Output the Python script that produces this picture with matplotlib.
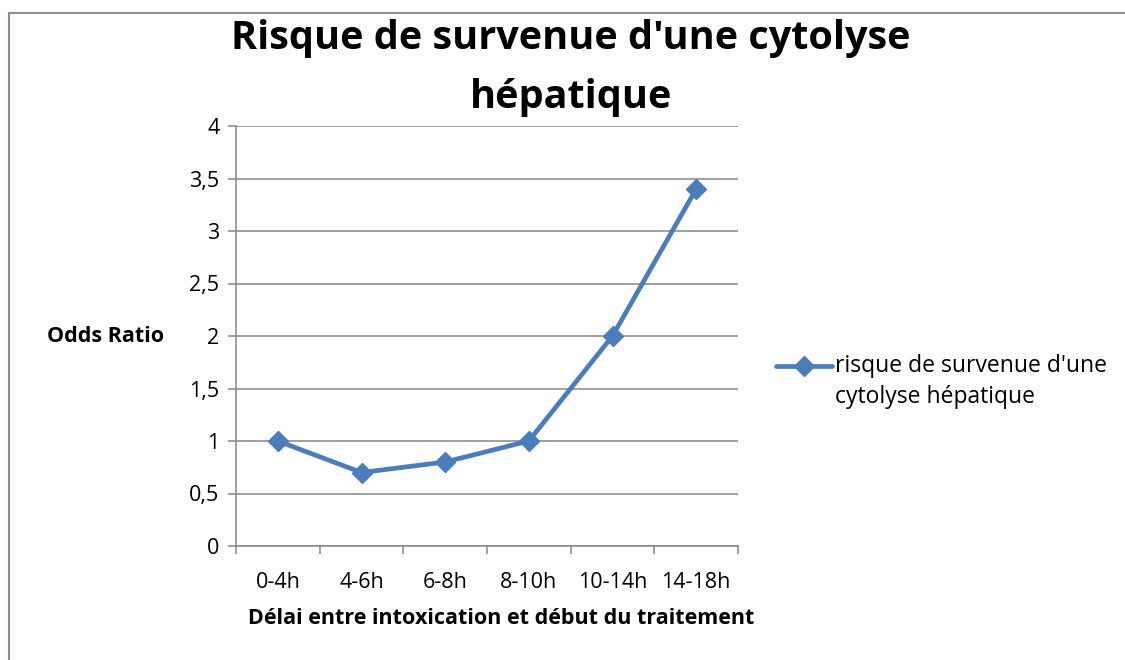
import matplotlib
matplotlib.use("Agg")
import matplotlib.pyplot as plt
from matplotlib.lines import Line2D

categories = ["0-4h", "4-6h", "6-8h", "8-10h", "10-14h", "14-18h"]
odds_ratio = [1.0, 0.7, 0.8, 1.0, 2.0, 3.4]
y_ticks = [0, 0.5, 1, 1.5, 2, 2.5, 3, 3.5, 4]
y_tick_labels = ["0", "0,5", "1", "1,5", "2", "2,5", "3", "3,5", "4"]
series_label = "risque de survenue d'une\ncytolyse hépatique"
title = "Risque de survenue d'une cytolyse\nhépatique"
x_label = "Délai entre intoxication et début du traitement"
y_label = "Odds Ratio"

FONT = ["Open Sans", "DejaVu Sans"]
plt.rcParams['font.family'] = FONT
W, H = 1125, 660
fig = plt.figure(figsize=(W / 100, H / 100), dpi=100)
fig.patch.set_facecolor("white")

# outer border (top and left visible)
fig.add_artist(Line2D([8.5 / W, 8.5 / W], [0, 1 - 12.5 / H], transform=fig.transFigure,
                      color="#8c8c8c", lw=1.5))
fig.add_artist(Line2D([8.5 / W, 1], [1 - 12.5 / H, 1 - 12.5 / H], transform=fig.transFigure,
                      color="#8c8c8c", lw=1.5))

ax = fig.add_axes([236 / W, 1 - 546 / H, (738 - 236) / W, (546 - 126) / H])
x = list(range(len(categories)))
blue = "#4A7EBB"
ms = 10
lw = 3.4
ax.plot(x, odds_ratio, color=blue, lw=lw, marker="D", markersize=ms,
        label=series_label, solid_joinstyle="round")

ax.set_xlim(-0.5, len(categories) - 0.5)
ax.set_ylim(0, 4)
grid_c = "#868686"
ax.set_yticks(y_ticks)
ax.set_yticklabels(y_tick_labels)
ax.yaxis.grid(True, color=grid_c, lw=1.1)
ax.set_axisbelow(True)
ax.set_xticks([i - 0.5 for i in range(len(categories) + 1)])
ax.set_xticklabels([])
ax.set_xticks(x, minor=True)
ax.set_xticklabels(categories, minor=True)
ax.tick_params(axis="x", which="major", length=6, color=grid_c, width=1.1, direction="out")
ax.tick_params(axis="x", which="minor", length=0, pad=19, labelsize=15.5)
ax.tick_params(axis="y", length=6, color=grid_c, width=1.1, direction="out", pad=6, labelsize=15.5)
for s in ["top", "right"]:
    ax.spines[s].set_visible(False)
for s in ["left", "bottom"]:
    ax.spines[s].set_color(grid_c)
    ax.spines[s].set_linewidth(1.1)

fig.text(571 / W, 1 - 68 / H, title, ha="center", va="center", fontsize=28.5,
         fontweight="bold", linespacing=1.68)
fig.text(501 / W, 1 - 618 / H, x_label, ha="center", va="center", fontsize=15.5,
         fontweight="bold")
fig.text(106 / W, 1 - 337 / H, y_label, ha="center", va="center", fontsize=15.5,
         fontweight="bold")

# legend (handle aligned with first text line, as in the reference)
fig.add_artist(Line2D([776 / W, 832 / W], [1 - 366 / H, 1 - 366 / H], transform=fig.transFigure,
                      color=blue, lw=lw, solid_capstyle="round"))
fig.add_artist(Line2D([804 / W], [1 - 366 / H], transform=fig.transFigure,
                      color=blue, marker="D", markersize=ms, lw=0))
fig.text(835 / W, 1 - 381.5 / H, series_label, ha="left", va="center", fontsize=16.5,
         linespacing=1.35)

fig.savefig("out.png", dpi=100, facecolor="white")
